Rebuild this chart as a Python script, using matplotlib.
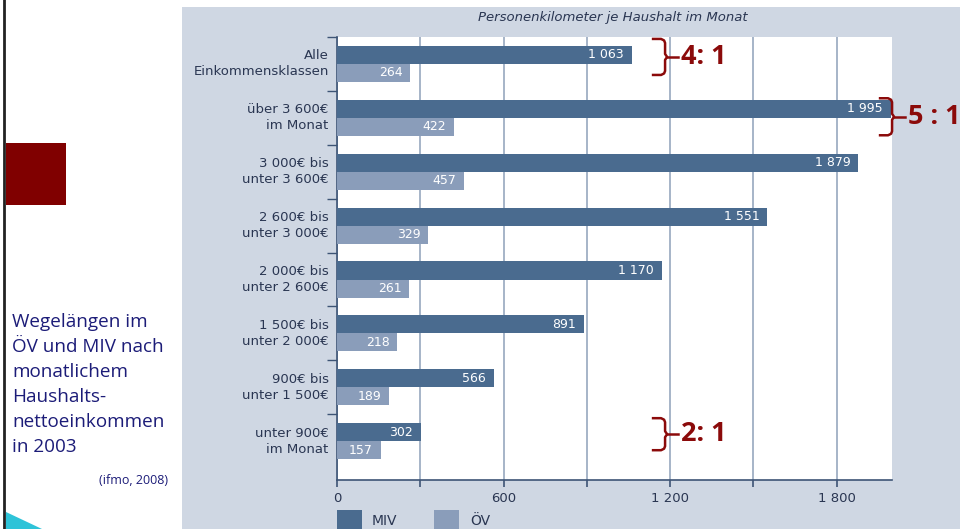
import matplotlib.pyplot as plt
from matplotlib.patches import Rectangle, Polygon
from matplotlib.lines import Line2D

# Einkommensklassen (oben nach unten)
categories = [
    "Alle\nEinkommensklassen",
    "über 3 600€\nim Monat",
    "3 000€ bis\nunter 3 600€",
    "2 600€ bis\nunter 3 000€",
    "2 000€ bis\nunter 2 600€",
    "1 500€ bis\nunter 2 000€",
    "900€ bis\nunter 1 500€",
    "unter 900€\nim Monat",
]
miv = [1063, 1995, 1879, 1551, 1170, 891, 566, 302]
oev = [264, 422, 457, 329, 261, 218, 189, 157]
ticks = [0, 300, 600, 900, 1200, 1500, 1800]
tick_labels = ["0", "", "600", "", "1 200", "", "1 800"]
ratios = {0: "4: 1", 1: "5 : 1", 7: "2: 1"}

W, H = 960, 529
c_miv = "#4a6b8f"
c_oev = "#8a9dba"
c_panel = "#cfd7e3"
c_text = "#2a3652"
c_red = "#8b0a0a"


def fx(px):
    return px / W


def fy(py):
    return 1 - py / H


fig = plt.figure(figsize=(9.6, 5.29), dpi=100)
fig.patch.set_facecolor("white")

# grauer Hintergrund der Grafik
fig.patches.append(Rectangle((fx(182), 0), fx(W - 182), fy(7), transform=fig.transFigure,
                             facecolor=c_panel, edgecolor="none", zorder=0))

# linker Folienrand, rotes Quadrat, Ecke unten
fig.add_artist(Line2D([fx(4), fx(4)], [0, 1], color="#222222", lw=2))
fig.patches.append(Rectangle((fx(6), fy(205)), fx(60), fy(143) - fy(205), transform=fig.transFigure,
                             facecolor="#800000", edgecolor="none"))
fig.patches.append(Polygon([(fx(6), fy(512)), (fx(42), fy(529)), (fx(6), fy(529))], closed=True,
                           transform=fig.transFigure, facecolor="#2ec3d8", edgecolor="none"))

fig.text(fx(12), fy(313),
         "Wegelängen im\nÖV und MIV nach\nmonatlichem\nHaushalts-\nnettoeinkommen\nin 2003",
         ha="left", va="top", fontsize=13.6, color="#1c1c78", family="Open Sans", linespacing=1.5)
fig.text(fx(168), fy(481), "(ifmo, 2008)", ha="right", va="center", fontsize=9,
         color="#1c1c78", family="Open Sans")

ax = fig.add_axes([fx(337), fy(480), fx(892 - 337), fy(37) - fy(480)])
ax.set_zorder(2)
ax.set_facecolor("white")
ax.set_xlim(0, 2000)
ax.set_ylim(7.72, -0.5)

n = len(categories)
h = 0.335
ypos = list(range(n))
ax.barh([y - h / 2 for y in ypos], miv, height=h, color=c_miv, zorder=3)
ax.barh([y + h / 2 for y in ypos], oev, height=h, color=c_oev, zorder=3)

pad = 8 * 2000 / (892 - 337)
for y, a, b in zip(ypos, miv, oev):
    ax.text(a - pad, y - h / 2, f"{a:,}".replace(",", " "), ha="right", va="center",
            color="white", fontsize=9, zorder=4)
    ax.text(b - pad, y + h / 2, f"{b:,}".replace(",", " "), ha="right", va="center",
            color="white", fontsize=9, zorder=4)

ax.set_xticks(ticks)
ax.set_xticklabels(tick_labels, fontsize=9.5, color=c_text)
ax.tick_params(axis="x", length=5, color="#3d5475", width=1.2, pad=4)
ax.grid(axis="x", color="#97a8bf", lw=1.2, zorder=1)

ax.set_yticks([y - 0.5 for y in range(n)])
ax.set_yticklabels([])
ax.tick_params(axis="y", length=7, color="#3d5475", width=1)
for y, lab in zip(ypos, categories):
    ax.text(-30, y, lab, ha="right", va="center", fontsize=9.5, color=c_text,
            linespacing=1.3, clip_on=False)

for s in ["top", "right"]:
    ax.spines[s].set_visible(False)
for s in ["left", "bottom"]:
    ax.spines[s].set_color("#3d5475")
    ax.spines[s].set_linewidth(1.2)

fig.text(fx(613), fy(18), "Personenkilometer je Haushalt im Monat", ha="center", va="center",
         fontsize=9.5, style="italic", color=c_text)

# Klammern mit Verhältnis MIV : ÖV
xu = 2000 / (892 - 337)  # Dateneinheiten je Pixel
yu = 7 / (441 - 64)


def brace(x0, yc, half, label):
    pts_x = [0, 8, 11, 12, 12, 14, 12, 12, 11, 8, 0]
    pts_y = [-half, -half, -half + 1.5, -half + 4, -3, 0, 3, half - 4, half - 1.5, half, half]
    ax.plot([x0 + p * xu for p in pts_x], [yc + p * yu for p in pts_y],
            color=c_red, lw=1.8, clip_on=False, zorder=5, solid_joinstyle="round")
    ax.plot([x0 + 14 * xu, x0 + 25 * xu], [yc, yc], color=c_red, lw=1.8, clip_on=False, zorder=5)
    ax.text(x0 + 28 * xu, yc, label, ha="left", va="center", fontsize=19.5, fontweight="bold",
            color=c_red, family="Open Sans", clip_on=False, zorder=5)


brace(1139, 0 - 0.13, 18, ratios[0])
brace(1957, 1 - 0.02, 18.5, ratios[1])
brace(1139, 7 - 0.13, 16, ratios[7])

# Legende unten
fig.patches.append(Rectangle((fx(337), 0), fx(25), fy(510), transform=fig.transFigure,
                             facecolor=c_miv, edgecolor="none"))
fig.text(fx(372), fy(521), "MIV", ha="left", va="center", fontsize=10, color=c_text)
fig.patches.append(Rectangle((fx(434), 0), fx(25), fy(510), transform=fig.transFigure,
                             facecolor=c_oev, edgecolor="none"))
fig.text(fx(470), fy(521), "ÖV", ha="left", va="center", fontsize=10, color=c_text)

fig.savefig("out.png", dpi=100)
